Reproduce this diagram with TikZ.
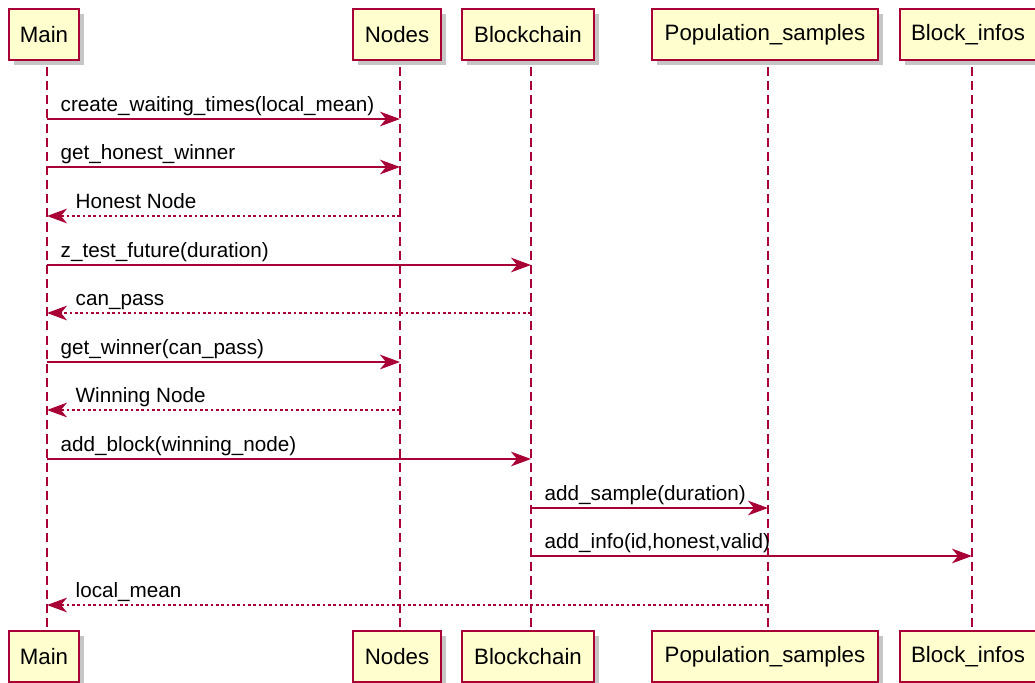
\documentclass[tikz,border=0pt]{standalone}
\usepackage{fontspec}
\setmainfont{Liberation Sans}
\usetikzlibrary{arrows.meta,shadows}
\definecolor{cuml}{HTML}{A80036}
\definecolor{cpart}{HTML}{FEFECE}

\begin{document}
\begin{tikzpicture}[x=0.75pt,y=-0.75pt,
  part/.style={draw=cuml, fill=cpart, line width=1.4pt, minimum height=38.25pt,
               inner sep=0pt, font=\fontsize{16.7}{20}\selectfont,
               drop shadow={shadow xshift=3.5pt, shadow yshift=-3.5pt,
                            opacity=0.45, fill=black!50}},
  life/.style={cuml, line width=1pt, dash pattern=on 6.8pt off 3.8pt},
  call/.style={cuml, line width=1.1pt,
               -{Stealth[length=15pt,width=11pt,inset=4.5pt]}},
  back/.style={call, dash pattern=on 2pt off 2pt},
  lbl/.style={anchor=base west, inner sep=0pt, text=black,
              font=\fontsize{15.5}{18}\selectfont, yshift=6pt},
  flbl/.style={lbl, xshift=9.75pt},
  rlbl/.style={lbl, xshift=21pt},
]
\useasboundingbox (0,0) rectangle (1035,682);
% --- lifelines --------------------------------------------------------
\coordinate (mainL)  at (47,67);
\coordinate (nodesL) at (400,67);
\coordinate (chainL) at (531,67);
\coordinate (popL)   at (768,67);
\coordinate (infoL)  at (972,67);
\draw[life] (mainL)  -- (mainL |- 0,630);
\draw[life] (nodesL) -- (nodesL |- 0,630);
\draw[life] (chainL) -- (chainL |- 0,630);
\draw[life] (popL)   -- (popL |- 0,630);
\draw[life] (infoL)  -- (infoL |- 0,630);
% --- participants, top and bottom -------------------------------------
\node[part, minimum width=52.5pt]  (main)  at (44,34.5)  {Main};
\node[part, minimum width=66pt]    (nodes) at (397,34.5) {Nodes};
\node[part, minimum width=99pt]    (chain) at (528,34.5) {Blockchain};
\node[part, minimum width=169.5pt] (pop)   at (765,34.5) {Population\_samples};
\node[part, minimum width=102pt]   (info)  at (968,34.5) {Block\_infos};
\node[part, minimum width=52.5pt]  (main2)  at (44,656.5)  {Main};
\node[part, minimum width=66pt]    (nodes2) at (397,656.5) {Nodes};
\node[part, minimum width=99pt]    (chain2) at (528,656.5) {Blockchain};
\node[part, minimum width=169.5pt] (pop2)   at (765,656.5) {Population\_samples};
\node[part, minimum width=102pt]   (info2)  at (968,656.5) {Block\_infos};
% --- messages ---------------------------------------------------------
\draw[call] (mainL |- 0,119) -- (nodesL |- 0,119)
  node[flbl, at start] {create\_waiting\_times(local\_mean)};
\draw[call] (mainL |- 0,167) -- (nodesL |- 0,167)
  node[flbl, at start] {get\_honest\_winner};
\draw[back] (nodesL |- 0,216) -- (mainL |- 0,216)
  node[rlbl, at end] {Honest Node};
\draw[call] (mainL |- 0,265) -- (chainL |- 0,265)
  node[flbl, at start] {z\_test\_future(duration)};
\draw[back] (chainL |- 0,313) -- (mainL |- 0,313)
  node[rlbl, at end] {can\_pass};
\draw[call] (mainL |- 0,362) -- (nodesL |- 0,362)
  node[flbl, at start] {get\_winner(can\_pass)};
\draw[back] (nodesL |- 0,410) -- (mainL |- 0,410)
  node[rlbl, at end] {Winning Node};
\draw[call] (mainL |- 0,459) -- (chainL |- 0,459)
  node[flbl, at start] {add\_block(winning\_node)};
\draw[call] (chainL |- 0,508) -- (popL |- 0,508)
  node[flbl, at start] {add\_sample(duration)};
\draw[call] (chainL |- 0,556) -- (infoL |- 0,556)
  node[flbl, at start] {add\_info(id,honest,valid)};
\draw[back] (popL |- 0,605) -- (mainL |- 0,605)
  node[rlbl, at end] {local\_mean};
\end{tikzpicture}
\end{document}
